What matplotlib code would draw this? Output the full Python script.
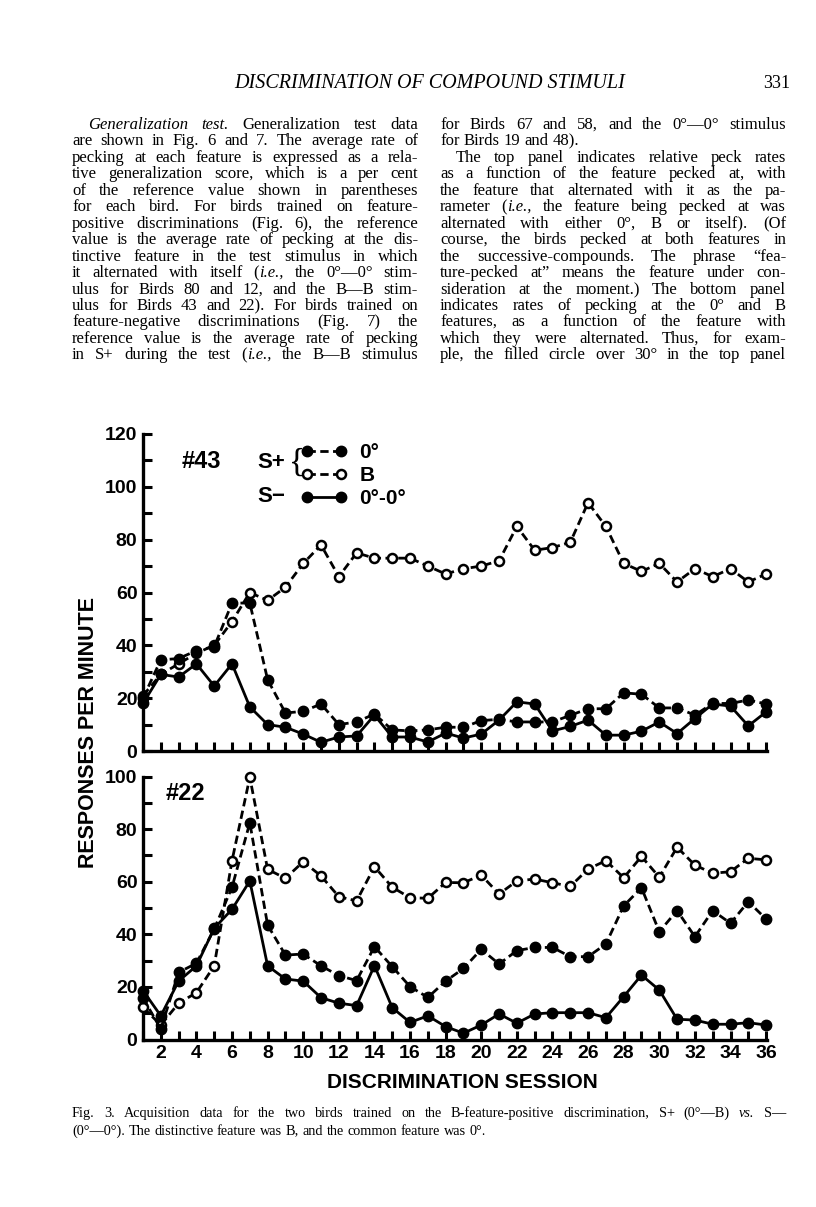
import math
import matplotlib
matplotlib.use("Agg")
import matplotlib.pyplot as plt
from matplotlib.font_manager import FontProperties, findfont, get_font
from matplotlib.backends.backend_agg import get_hinting_flag

W, H = 816, 1207

# ---- chart data (responses per minute, sessions 1-36) ----
sessions = list(range(1, 37))

b43_B = [21, 29, 33, 37, 40, 49, 60, 57, 62, 71, 78, 66, 75, 73, 73, 73, 70, 67,
         69, 70, 72, 85, 76, 77, 79, 94, 85, 71, 68, 71, 64, 69, 66, 69, 64, 67]
b43_0 = [20, 34.5, 35, 38, 39.5, 56, 56, 27, 14.4, 15, 17.8, 10, 11, 14, 8, 7.6, 8, 9,
         9, 11.5, 12, 11, 11, 11, 13.5, 16, 16, 22, 21.5, 16.3, 16.3, 13.6, 18, 18, 19.3, 17.8]
b43_00 = [18, 29, 28, 33, 24.6, 33, 16.7, 10, 9, 6.4, 3.3, 5.3, 5.7, 13.6, 5.3, 5.3, 3.4, 6.8,
          4.9, 6.4, 11.7, 18.6, 17.8, 7.6, 9.3, 11.7, 6, 6, 7.5, 11, 6.6, 12.3, 17.8, 17, 9.5, 14.8]

b22_B = [12.2, 5.5, 13.8, 17.8, 28, 68, 99.7, 64.7, 61.3, 67.6, 62.2, 54.3, 52.7, 65.7, 57.9, 53.9,
         53.7, 59.7, 59.6, 62.5, 55.3, 60.3, 61, 59.6, 58.2, 64.8, 68, 61.5, 69.6, 61.7, 73.1, 66.3,
         63.2, 63.8, 68.9, 68.3]
b22_0 = [15.8, 4, 25.5, 29, 42, 57.9, 82.4, 43.5, 32.1, 32.5, 28, 24.3, 22.4, 35.3, 27.7, 20.1,
         16, 22.2, 27, 34.3, 28.7, 33.8, 35, 35, 31.5, 31.5, 36.3, 50.8, 57.7, 41, 49, 39.1,
         49, 44.2, 52.4, 45.8]
b22_00 = [18.6, 9, 22.2, 28, 42.3, 49.5, 60.3, 28, 23, 22.2, 15.9, 13.8, 12.9, 28.1, 12.1, 6.5,
          9, 4.9, 2.4, 5.5, 9.7, 6.2, 9.7, 10.2, 10.2, 10.2, 8.3, 16.3, 24.5, 18.8, 7.7, 7.4,
          5.8, 5.8, 6.4, 5.5]

legend_labels = ["0°", "B", "0°-0°"]

# ---- page text ----
header = "DISCRIMINATION OF COMPOUND STIMULI"
page_no = "331"
left_col = [
    "*Generalization test.* Generalization test data",
    "are shown in Fig. 6 and 7. The average rate of",
    "pecking at each feature is expressed as a rela-",
    "tive generalization score, which is a per cent",
    "of the reference value shown in parentheses",
    "for each bird. For birds trained on feature-",
    "positive discriminations (Fig. 6), the reference",
    "value is the average rate of pecking at the dis-",
    "tinctive feature in the test stimulus in which",
    "it alternated with itself (*i.e.,* the 0°—0° stim-",
    "ulus for Birds 80 and 12, and the B—B stim-",
    "ulus for Birds 43 and 22). For birds trained on",
    "feature-negative discriminations (Fig. 7) the",
    "reference value is the average rate of pecking",
    "in S+ during the test (*i.e.,* the B—B stimulus",
]
right_col = [
    "for Birds 67 and 58, and the 0°—0° stimulus",
    "for Birds 19 and 48).",
    "The top panel indicates relative peck rates",
    "as a function of the feature pecked at, with",
    "the feature that alternated with it as the pa-",
    "rameter (*i.e.,* the feature being pecked at was",
    "alternated with either 0°, B or itself). (Of",
    "course, the birds pecked at both features in",
    "the successive-compounds. The phrase \u201cfea-",
    "ture-pecked at\u201d means the feature under con-",
    "sideration at the moment.) The bottom panel",
    "indicates rates of pecking at the 0° and B",
    "features, as a function of the feature with",
    "which they were alternated. Thus, for exam-",
    "ple, the filled circle over 30° in the top panel",
]
caption = [
    "Fig. 3. Acquisition data for the two birds trained on the B-feature-positive discrimination, S+ (0°—B) *vs.* S—",
    "(0°—0°). The distinctive feature was B, and the common feature was 0°.",
]

SERIF = "Liberation Serif"
SANS = "Liberation Sans"

fig = plt.figure(figsize=(W / 100, H / 100), dpi=100)
renderer = fig.canvas.get_renderer()


def fx(x):
    return x / W


def fy(y):
    return 1 - y / H


def parse(text):
    words, buf, ital = [[]], "", False
    for ch in text:
        if ch == "*":
            if buf:
                words[-1].append((buf, ital))
                buf = ""
            ital = not ital
        elif ch == " ":
            if buf:
                words[-1].append((buf, ital))
                buf = ""
            words.append([])
        else:
            buf += ch
    if buf:
        words[-1].append((buf, ital))
    return [w for w in words if w]


def baseline_fix(s, size, italic):
    # Agg places each string by its own descent, so words with and without
    # descenders can land 1px apart; work out the shift that keeps baselines level
    try:
        prop = FontProperties(family=SERIF, style="italic" if italic else "normal", size=size)
        font = get_font(findfont(prop))
        font.clear()
        font.set_size(size, 100)
        font.set_text(s, 0.0, flags=get_hinting_flag())
        d = font.get_descent() / 64
        h = font.get_width_height()[1] / 64
        return math.floor(h) - math.floor(h - d) - d
    except Exception:
        return 0.0


def put_line(text, x0, x1, y, size, justify=True):
    y = round(y)
    words = parse(text)
    objs, widths = [], []
    for w in words:
        parts, wsum = [], 0
        for s, it in w:
            t = fig.text(0, fy(y + baseline_fix(s, size, it)), s, fontsize=size, family=SERIF,
                         style="italic" if it else "normal", va="baseline", ha="left")
            wd = t.get_window_extent(renderer).width
            parts.append((t, wd))
            wsum += wd
        objs.append(parts)
        widths.append(wsum)
    space = size * 100 / 72 * 0.25
    if justify and len(words) > 1:
        gap = max((x1 - x0 - sum(widths)) / (len(words) - 1), space * 0.5)
    else:
        gap = space
    x = x0
    for parts, wsum in zip(objs, widths):
        xx = x
        for t, wd in parts:
            t.set_x(fx(xx))
            xx += wd
        x += wsum + gap


# header
fig.text(fx(430), fy(88), header, fontsize=14.5, family=SERIF, style="italic",
         ha="center", va="baseline")
fig.text(fx(790), fy(88), page_no, fontsize=13, family=SERIF, ha="right", va="baseline")

line_h = 16.45
body_size = 12
for i, ln in enumerate(left_col):
    x0 = 88 if i == 0 else 72
    put_line(ln, x0, 418, 129 + i * line_h, body_size)
for i, ln in enumerate(right_col):
    x0 = 456 if i == 2 else 440
    put_line(ln, x0, 786, 129 + i * line_h, body_size, justify=(i != 1))

put_line(caption[0], 72, 786, 1117, 10.3)
put_line(caption[1], 72, 786, 1135, 10.3, justify=False)

# ---- chart panels ----
ax1 = fig.add_axes([fx(143), fy(751), (767 - 143) / W, (751 - 434) / H])
ax2 = fig.add_axes([fx(143), fy(1039.5), (767 - 143) / W, (1039.5 - 776.5) / H])


def style(ax, ymax, xlabels):
    ax.set_xlim(1, 36.05)
    ax.set_ylim(0, ymax)
    ax.patch.set_alpha(0)
    for s in ["top", "right"]:
        ax.spines[s].set_visible(False)
    for s in ["left", "bottom"]:
        ax.spines[s].set_linewidth(2.4)
        ax.spines[s].set_capstyle("projecting")
    ax.set_xticks(sessions)
    if xlabels:
        ax.set_xticklabels([str(s) if s % 2 == 0 else "" for s in sessions])
    else:
        ax.set_xticklabels([])
    yt = list(range(0, ymax + 1, 10))
    ax.set_yticks(yt)
    ax.set_yticklabels([str(v) if v % 20 == 0 else "" for v in yt])
    ax.tick_params(direction="in", length=6.5, width=2.2, color="black")
    ax.tick_params(axis="y", pad=4)
    ax.tick_params(axis="x", pad=4)
    for lab in ax.get_xticklabels() + ax.get_yticklabels():
        lab.set_family(SANS)
        lab.set_fontweight("bold")
        lab.set_fontsize(14)


def draw(ax, vb, v0, v00):
    h_b, = ax.plot(sessions, vb, ls=(0, (3, 1.6)), lw=2, color="black", marker="o", ms=6.5,
                   mfc="white", mec="black", mew=1.8, clip_on=False, zorder=3)
    h_0, = ax.plot(sessions, v0, ls=(0, (3, 1.6)), lw=2, color="black", marker="o", ms=7.5,
                   mfc="black", mec="black", clip_on=False, zorder=4)
    h_00, = ax.plot(sessions, v00, ls="-", lw=2, color="black", marker="o", ms=7.5,
                    mfc="black", mec="black", clip_on=False, zorder=4)
    return h_0, h_b, h_00


style(ax1, 120, False)
handles = draw(ax1, b43_B, b43_0, b43_00)
style(ax2, 100, True)
draw(ax2, b22_B, b22_0, b22_00)

leg = ax1.legend(handles, legend_labels, numpoints=2, frameon=False, loc="upper left",
                 bbox_to_anchor=(fx(301), fy(443)), bbox_transform=fig.transFigure,
                 handlelength=2.2, handletextpad=0.6, labelspacing=0.2, borderpad=0,
                 borderaxespad=0, prop={"family": SANS, "weight": "bold", "size": 15})

fig.text(fx(257), fy(462), "S+", fontsize=16, family=SANS, fontweight="bold", va="center")
fig.text(fx(257), fy(496), "S\u2212", fontsize=16, family=SANS, fontweight="bold", va="center")
fig.text(fx(297), fy(462), "{", fontsize=24, family=SERIF, va="center", ha="center")

fig.text(fx(182), fy(462), "#43", fontsize=17, family=SANS, fontweight="bold", va="center")
fig.text(fx(166), fy(793), "#22", fontsize=17, family=SANS, fontweight="bold", va="center")

fig.text(fx(89), fy(733), "RESPONSES PER MINUTE", fontsize=15.5, family=SANS, fontweight="bold",
         rotation=90, ha="center", va="center")
fig.text(fx(462), fy(1083), "DISCRIMINATION SESSION", fontsize=15, family=SANS,
         fontweight="bold", ha="center", va="center")

fig.savefig("out.png", dpi=100)
